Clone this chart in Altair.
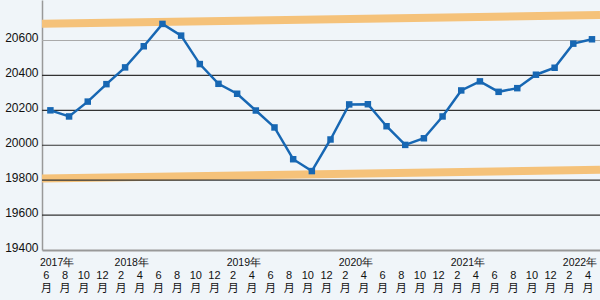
import altair as alt
import pandas as pd

# ---- data ----
months = [6, 8, 10, 12,
          2, 4, 6, 8, 10, 12,
          2, 4, 6, 8, 10, 12,
          2, 4, 6, 8, 10, 12,
          2, 4, 6, 8, 10, 12,
          2, 4]
years = [2017] * 4 + [2018] * 6 + [2019] * 6 + [2020] * 6 + [2021] * 6 + [2022] * 2
values = [20200, 20165, 20250, 20350, 20446, 20567, 20695, 20628, 20465, 20352,
          20295, 20199, 20102, 19920, 19852, 20033, 20234, 20235, 20109, 20002,
          20040, 20165, 20314, 20366, 20306, 20327, 20404, 20444, 20582, 20607]
y_ticks = [19400, 19600, 19800, 20000, 20200, 20400, 20600]
grid_values = [19600, 19800, 20000, 20200, 20400, 20600]
grid_kinds = ["dark", "dark", "dark", "dark", "dark", "light"]
band_x = [-0.45, 29.43]
upper_band = [20696, 20746]
lower_band = [19809, 19859]

SANS = "'Liberation Sans', Arial, sans-serif"
CJK = "'Noto Sans CJK JP', sans-serif"

idx = list(range(len(values)))
df = pd.DataFrame({
    "i": idx,
    "v": values,
    "m": [str(m) for m in months],
    "tsuki": ["月"] * len(values),
    "yl": [f"{y}年" if (k == 0 or m == 2) else "" for k, (y, m) in enumerate(zip(years, months))],
})
grid_df = pd.DataFrame({"g": grid_values, "kind": grid_kinds})
band_df = pd.DataFrame({
    "x": band_x * 2,
    "v": upper_band + lower_band,
    "band": ["upper", "upper", "lower", "lower"],
})

xscale = alt.Scale(domain=[band_x[0], band_x[1]], nice=False, zero=False)
yscale = alt.Scale(domain=[19400, 20832], nice=False, zero=False)

x_axis = alt.Axis(labels=False, ticks=False, grid=False, domain=True,
                  domainColor="#999999", domainWidth=2, title=None)
y_axis = alt.Axis(values=y_ticks, format="d", grid=False, ticks=False, domain=True,
                  domainColor="#999999", domainWidth=1.5, labelFont=SANS,
                  labelFontSize=12, labelColor="#111111", labelPadding=4,
                  labelOffset=-3, title=None)

base = alt.Chart(df)

grid = alt.Chart(grid_df).mark_rule(strokeWidth=1.2).encode(
    y=alt.Y("g:Q", scale=yscale, axis=y_axis),
    color=alt.Color("kind:N", scale=alt.Scale(domain=["dark", "light"], range=["#333333", "#aaaaaa"]), legend=None),
)

bands = alt.Chart(band_df).mark_line(strokeWidth=8, color="#f5c27a", strokeCap="butt").encode(
    x=alt.X("x:Q", scale=xscale, axis=x_axis),
    y=alt.Y("v:Q", scale=yscale),
    detail="band:N",
)

line = base.mark_line(color="#1767b3", strokeWidth=2.5).encode(
    x=alt.X("i:Q", scale=xscale),
    y=alt.Y("v:Q", scale=yscale),
)
pts = base.mark_point(shape="square", filled=True, size=42, color="#1767b3", opacity=1).encode(
    x=alt.X("i:Q", scale=xscale),
    y=alt.Y("v:Q", scale=yscale),
)

mon = base.mark_text(font=SANS, fontSize=11, color="#111111", baseline="middle", dx=-4).encode(
    x=alt.X("i:Q", scale=xscale), y=alt.value(275.5), text="m:N")
tsu = base.mark_text(font=CJK, fontSize=11, color="#111111", baseline="middle", dx=-4).encode(
    x=alt.X("i:Q", scale=xscale), y=alt.value(289), text="tsuki:N")
yr = base.mark_text(font=SANS, fontSize=10.5, color="#111111", baseline="middle",
                    align="left", dx=-10.5).encode(
    x=alt.X("i:Q", scale=xscale), y=alt.value(262.5), text="yl:N")

chart = alt.layer(bands, grid, line, pts, mon, tsu, yr).properties(
    width=558, height=250,
    padding={"left": 42, "top": 0, "right": 0, "bottom": 50},
    autosize="none",
    background="#f0f5f9",
).configure_view(stroke=None)

chart.save("out.html", embed_options={"renderer": "svg", "actions": False})
